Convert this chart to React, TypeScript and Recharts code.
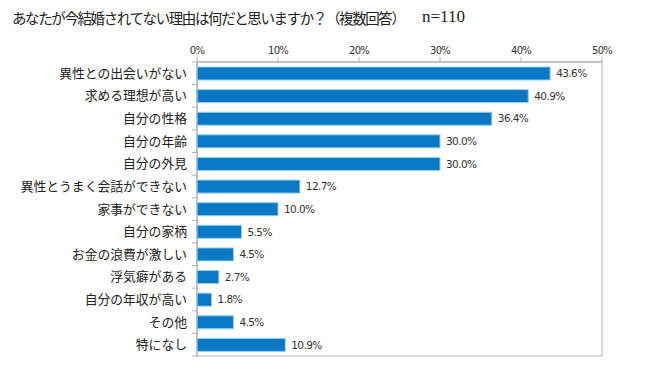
import { BarChart, Bar, XAxis, YAxis, LabelList, ReferenceArea } from 'recharts'

const categories = [
  '異性との出会いがない',
  '求める理想が高い',
  '自分の性格',
  '自分の年齢',
  '自分の外見',
  '異性とうまく会話ができない',
  '家事ができない',
  '自分の家柄',
  'お金の浪費が激しい',
  '浮気癖がある',
  '自分の年収が高い',
  'その他',
  '特になし',
]

const values = [43.6, 40.9, 36.4, 30.0, 30.0, 12.7, 10.0, 5.5, 4.5, 2.7, 1.8, 4.5, 10.9]

const xTicks = [0, 10, 20, 30, 40, 50]

const chartData = categories.map((name, i) => ({ name, value: values[i] }))

const FONT = '"Noto Sans CJK JP", "Noto Sans", sans-serif'

// category labels plus the little tick marks that sit between the bands
function CatTick(props: any) {
  const { x, y, payload, index } = props
  const off = payload && payload.offset ? payload.offset : 11.3
  const axisX = x + 10
  return (
    <g>
      <line x1={axisX - 5} x2={axisX} y1={y - off} y2={y - off} stroke="#b0b0b0" />
      {index === categories.length - 1 && (
        <line x1={axisX - 5} x2={axisX} y1={y + off} y2={y + off} stroke="#b0b0b0" />
      )}
      <text x={x} y={y} dy={4.5} textAnchor="end" fontSize={12.8} fill="#222" fontFamily={FONT}>
        {payload.value}
      </text>
    </g>
  )
}

export default function App() {
  return (
    <div style={{ position: 'absolute', left: 0, top: 0, width: 650, height: 383, background: '#fff' }}>
      <div
        style={{
          position: 'absolute',
          left: 12,
          top: 7,
          fontFamily: FONT,
          fontSize: 14.5,
          letterSpacing: -1.4,
          color: '#222',
          whiteSpace: 'nowrap',
        }}
      >
        あなたが今結婚されてない理由は何だと思いますか？（複数回答）
      </div>
      <div
        style={{
          position: 'absolute',
          left: 422,
          top: 7,
          fontFamily: '"Liberation Serif", serif',
          fontSize: 17,
          color: '#222',
        }}
      >
        n=110
      </div>
      <BarChart
        width={650}
        height={383}
        data={chartData}
        layout="vertical"
        margin={{ top: 0, right: 48, bottom: 27, left: 0 }}
      >
        <XAxis
          type="number"
          orientation="top"
          domain={[0, 50]}
          ticks={xTicks}
          tickFormatter={(v) => `${v}%`}
          axisLine={{ stroke: '#b0b0b0' }}
          tickLine={{ stroke: '#b0b0b0' }}
          tickSize={5}
          tickMargin={3}
          tick={{ fontSize: 10, fill: '#333', fontFamily: '"DejaVu Sans", sans-serif', letterSpacing: -0.8 }}
          height={62}
        />
        <YAxis
          type="category"
          dataKey="name"
          width={197}
          tickSize={6}
          tickMargin={4}
          tickLine={false}
          axisLine={{ stroke: '#b0b0b0' }}
          tick={<CatTick />}
          interval={0}
        />
        <ReferenceArea x1={0} x2={50} fill="none" stroke="#b0b0b0" strokeOpacity={1} ifOverflow="visible" />
        <Bar
          dataKey="value"
          fill="#0B78C6"
          stroke="#8fd0ef"
          strokeWidth={1}
          barSize={13}
          isAnimationActive={false}
        >
          <LabelList
            dataKey="value"
            position="right"
            offset={6}
            formatter={(v: any) => `${Number(v).toFixed(1)}%`}
            style={{ fontSize: 10.5, fill: '#333', fontFamily: '"DejaVu Sans", sans-serif', letterSpacing: -0.6 }}
          />
        </Bar>
      </BarChart>
    </div>
  )
}
